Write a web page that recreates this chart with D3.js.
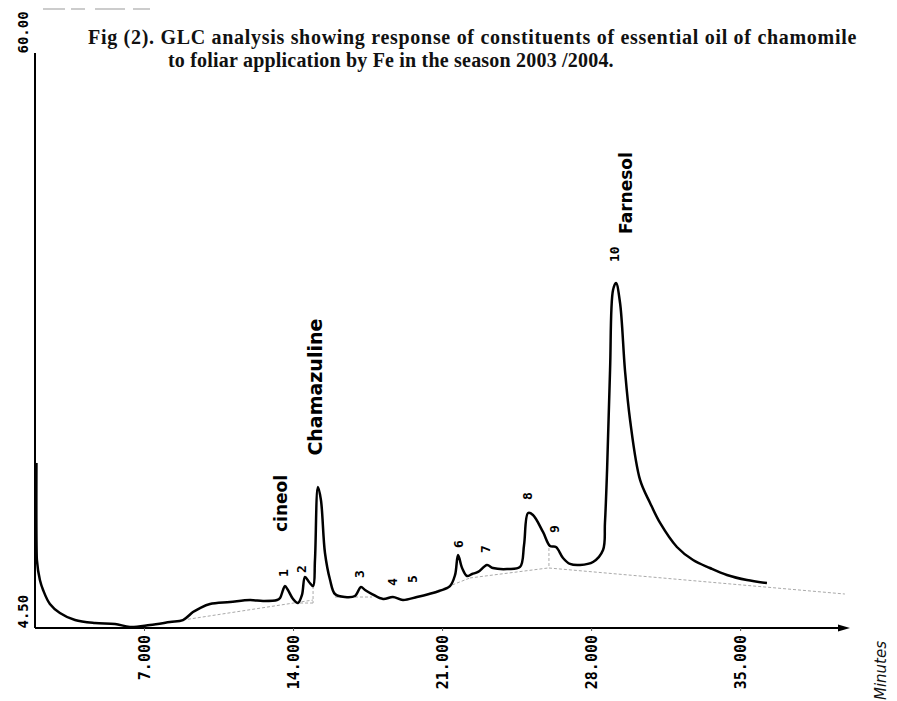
<!DOCTYPE html>
<html>
<head>
<meta charset="utf-8">
<script src="https://cdn.jsdelivr.net/npm/d3@7/dist/d3.min.js"></script>
<style>
  html, body { margin: 0; padding: 0; background: #fff; }
  svg { display: block; }
</style>
</head>
<body>
<svg id="chart" width="897" height="701"></svg>
<script>
// ---------- DATA ----------
const titleLines = [
  "Fig (2). GLC analysis showing response of constituents of essential oil of chamomile",
  "to foliar application by Fe in the season 2003 /2004."
];
const xTicks = [7, 14, 21, 28, 35];
const yTicks = [4.5, 60];
const xLabel = "Minutes";

// retention time (min) and detector response of the trace
const traceTime = [1.93, 1.97, 2.11, 2.26, 2.58, 3.05, 3.76, 4.70, 5.64, 6.34, 7.28, 8.22, 8.83, 9.30, 9.63, 10.10, 11.04, 11.98, 12.59, 13.25, 13.39, 13.53, 13.62, 13.76, 14.00, 14.23, 14.42, 14.56, 14.75, 14.94, 15.03, 15.17, 15.31, 15.50, 15.74, 15.97, 16.44, 16.91, 17.19, 17.38, 17.71, 18.23, 18.69, 19.16, 19.82, 20.39, 20.86, 21.37, 21.61, 21.75, 21.94, 22.17, 22.41, 22.69, 23.11, 23.39, 24.05, 24.66, 24.85, 25.04, 25.27, 25.74, 26.07, 26.35, 26.68, 27.01, 27.48, 28.09, 28.56, 28.65, 28.75, 28.89, 29.03, 29.17, 29.36, 29.59, 29.83, 30.30, 30.77, 31.24, 32.03, 32.79, 33.58, 34.38, 35.32, 36.26];
const traceResp = [20.43, 11.06, 9.13, 8.17, 6.82, 5.95, 5.27, 4.98, 4.89, 4.60, 4.79, 5.08, 5.27, 6.04, 6.43, 6.82, 7.01, 7.20, 7.11, 7.20, 7.40, 8.17, 8.55, 8.17, 7.30, 6.91, 7.69, 9.42, 8.94, 8.55, 11.06, 18.11, 16.86, 11.74, 9.13, 7.78, 7.49, 7.59, 8.46, 8.17, 7.78, 7.30, 7.49, 7.20, 7.49, 7.78, 8.07, 8.55, 9.62, 11.55, 10.29, 9.52, 9.71, 9.91, 10.58, 10.29, 10.19, 10.39, 12.51, 15.60, 15.41, 13.77, 12.42, 12.32, 11.26, 10.68, 10.58, 10.87, 12.03, 14.64, 19.75, 29.40, 37.13, 37.80, 35.87, 29.40, 24.58, 18.79, 16.57, 14.64, 12.32, 11.06, 10.29, 9.62, 9.13, 8.84];

// integration baselines (start time, start resp, end time, end resp)
const baseT0 = [8.83, 14.94, 14.33, 15.97, 20.39, 22.31, 26.02, 26.02];
const baseV0 = [5.27, 8.55, 6.91, 7.49, 7.78, 9.33, 12.22, 10.29];
const baseT1 = [14.94, 14.94, 14.94, 17.71, 22.31, 25.97, 26.02, 39.92];
const baseV1 = [7.20, 6.91, 6.91, 7.49, 9.33, 10.29, 10.29, 7.78];

// peak numbers
const peakNums = ["1", "2", "3", "4", "5", "6", "7", "8", "9", "10"];
const peakNumTime = [13.53, 14.42, 17.14, 18.69, 19.63, 21.75, 23.06, 24.99, 26.30, 29.12];
const peakNumResp = [9.42, 9.81, 9.33, 8.55, 8.84, 12.22, 11.74, 16.86, 13.67, 39.83];

// handwritten constituent names
const compNames = ["cineol", "Chamazuline", "Farnesol"];
const compTime = [13.72, 15.37, 29.92];
const compResp = [13.77, 21.14, 42.54];

// ---------- CHART ----------
const svg = d3.select("#chart");
const xDomain = [1.88, 40.16];
const x = d3.scaleLinear().domain(xDomain).range([35, 850]);
const y = d3.scaleLinear().domain([4.5, 60]).range([628, 53]);

// scan artefact at top
svg.append("line")
  .attr("x1", 43).attr("x2", 150).attr("y1", 9).attr("y2", 9)
  .attr("stroke", "#999").attr("stroke-width", 1.2)
  .attr("stroke-dasharray", "22,6,14,10,30,8");

// title
const titleG = svg.append("g")
  .attr("font-family", "'Liberation Serif', 'Times New Roman', serif")
  .attr("font-size", 20).attr("font-weight", "bold").attr("fill", "#111")
  .attr("letter-spacing", 0.7);
titleG.append("text").attr("x", 88).attr("y", 44).text(titleLines[0]);
titleG.append("text").attr("x", 168).attr("y", 67).attr("letter-spacing", 0.2).text(titleLines[1]);

// baselines
const bl = svg.append("g").attr("stroke", "#aaa").attr("stroke-width", 1)
  .attr("stroke-dasharray", "3,2").attr("fill", "none");
baseT0.forEach((t, i) => {
  bl.append("line")
    .attr("x1", x(t)).attr("y1", y(baseV0[i]))
    .attr("x2", x(baseT1[i])).attr("y2", y(baseV1[i]));
});

// y axis
const yAxis = d3.axisLeft(y).tickValues(yTicks).tickSize(0).tickFormat(d3.format(".2f"));
const gy = svg.append("g").attr("transform", "translate(35,0)").call(yAxis);
gy.select(".domain").attr("stroke", "#000").attr("stroke-width", 2).attr("d", `M0,${y(60)}V${y(4.5)}`);
gy.selectAll(".tick text")
  .attr("font-family", "'DejaVu Sans Mono', monospace").attr("font-weight", "bold")
  .attr("font-size", 14).attr("fill", "#000")
  .attr("text-anchor", "start").attr("dy", null)
  .attr("transform", "translate(-7,0) rotate(-90)")
  .attr("x", 0).attr("y", 0);

// x axis
const xAxis = d3.axisBottom(x).tickValues(xTicks).tickSize(3).tickFormat(d3.format(".3f"));
const gx = svg.append("g").attr("transform", "translate(0,628)").call(xAxis);
gx.select(".domain").attr("stroke", "#000").attr("stroke-width", 2).attr("d", `M35,0H842`);
gx.selectAll(".tick line").attr("stroke", "#555");
gx.selectAll(".tick text")
  .attr("font-family", "'DejaVu Sans Mono', monospace").attr("font-weight", "bold")
  .attr("font-size", 15).attr("fill", "#000")
  .attr("text-anchor", "end").attr("dy", null)
  .attr("dominant-baseline", "central")
  .attr("transform", "translate(0,7) rotate(-90)")
  .attr("x", 0).attr("y", 0);
// arrow head
svg.append("path").attr("d", `M${x(xDomain[1])},628 l-12,-3.5 l0,7 z`).attr("fill", "#000");

// x label
svg.append("text")
  .attr("transform", "translate(886,700) rotate(-90)")
  .attr("font-family", "'DejaVu Sans', sans-serif").attr("font-style", "italic")
  .attr("font-size", 15).attr("fill", "#111").text(xLabel);

// trace
const pts = traceTime.map((t, i) => [t, traceResp[i]]);
svg.append("path").datum(pts)
  .attr("fill", "none").attr("stroke", "#000").attr("stroke-width", 2.5)
  .attr("stroke-linejoin", "round")
  .attr("d", d3.line().x(d => x(d[0])).y(d => y(d[1])).curve(d3.curveCatmullRom.alpha(0.5)));
// initial solvent spike drawn along the axis
svg.append("line").attr("x1", x(traceTime[0])).attr("x2", x(traceTime[0]))
  .attr("y1", y(traceResp[0])).attr("y2", y(traceResp[1]))
  .attr("stroke", "#000").attr("stroke-width", 3);

// peak numbers
peakNums.forEach((n, i) => {
  svg.append("text")
    .attr("transform", `translate(${x(peakNumTime[i])},${y(peakNumResp[i])}) rotate(-90)`)
    .attr("dominant-baseline", "central")
    .attr("font-family", "'DejaVu Sans Mono', monospace").attr("font-weight", "bold")
    .attr("font-size", 13).attr("fill", "#000").text(n);
});

// compound names
const nameSizes = [17, 19, 17];
compNames.forEach((n, i) => {
  svg.append("text")
    .attr("transform", `translate(${x(compTime[i])},${y(compResp[i])}) rotate(-90)`)
    .attr("font-family", "'DejaVu Sans', sans-serif").attr("font-weight", 600)
    .attr("font-size", nameSizes[i]).attr("fill", "#000").text(n);
});
</script>
</body>
</html>
